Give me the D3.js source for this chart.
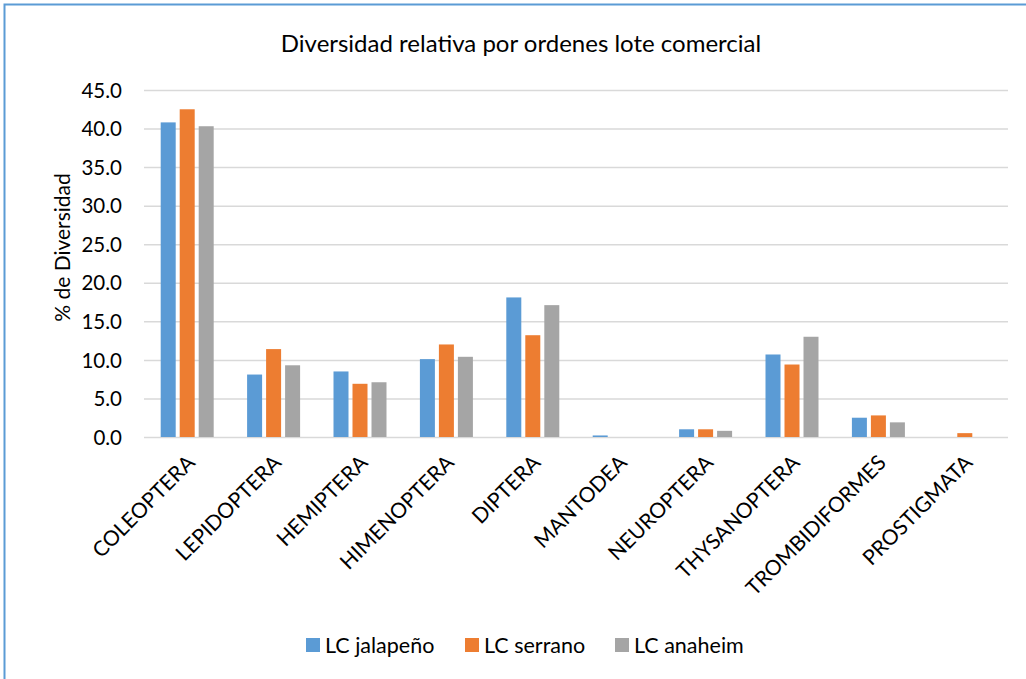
<!DOCTYPE html>
<html>
<head>
<meta charset="utf-8">
<script src="https://cdn.jsdelivr.net/npm/d3@7"></script>
<style>
    body { margin: 0; background: #fff; }
    text { font-family: Lato, "Noto Sans", sans-serif; fill: #000; }
</style>
</head>
<body>
<div id="chart-area"></div>
<script>
/*
*    Diversidad relativa por ordenes - lote comercial
*/

var categories = ["COLEOPTERA", "LEPIDOPTERA", "HEMIPTERA", "HIMENOPTERA", "DIPTERA",
    "MANTODEA", "NEUROPTERA", "THYSANOPTERA", "TROMBIDIFORMES", "PROSTIGMATA"];

var seriesNames = ["LC jalapeño", "LC serrano", "LC anaheim"];

var jalapeno = [40.8, 8.1, 8.5, 10.1, 18.1, 0.2, 1.0, 10.7, 2.5, 0.0];
var serrano  = [42.5, 11.4, 6.9, 12.0, 13.2, 0.0, 1.0, 9.4, 2.8, 0.5];
var anaheim  = [40.3, 9.3, 7.1, 10.4, 17.1, 0.0, 0.8, 13.0, 1.9, 0.0];

var yTicks = [0, 5, 10, 15, 20, 25, 30, 35, 40, 45];

var colors = ["#5b9bd5", "#ed7d31", "#a5a5a5"];

var W = 1026, H = 679;
var margin = { left:144, right:18, top:90, bottom:242 };

var width = W - margin.left - margin.right,
    height = H - margin.top - margin.bottom;

var svg = d3.select("#chart-area")
    .append("svg")
        .attr("width", W)
        .attr("height", H);

// outer frame (right and bottom edges are cut off in the picture)
svg.append("rect")
    .attr("x", 4.5)
    .attr("y", 4.5)
    .attr("width", W + 20)
    .attr("height", H + 20)
    .attr("fill", "none")
    .attr("stroke", "#5b9bd5")
    .attr("stroke-width", 2);

// Title
svg.append("text")
    .attr("x", 521)
    .attr("y", 52)
    .attr("font-size", "24px")
    .attr("text-anchor", "middle")
    .text("Diversidad relativa por ordenes lote comercial");

var g = svg.append("g")
    .attr("transform", "translate(" + margin.left + ", " + margin.top + ")");

// Y Label
g.append("text")
    .attr("y", -margin.left + 70)
    .attr("x", -(height / 2) + 16)
    .attr("font-size", "21px")
    .attr("text-anchor", "middle")
    .attr("transform", "rotate(-90)")
    .text("% de Diversidad");

var data = categories.map(function(c, i) {
    return { name: c, values: [jalapeno[i], serrano[i], anaheim[i]] };
});

// X Scale
var x0 = d3.scaleBand()
    .domain(categories)
    .range([0, width])
    .padding(0);

var groupW = 57;
var x1 = d3.scaleBand()
    .domain(d3.range(seriesNames.length))
    .range([(x0.bandwidth() - groupW) / 2, (x0.bandwidth() + groupW) / 2])
    .padding(0);

// Y Scale
var y = d3.scaleLinear()
    .domain([0, 45])
    .range([height, 0]);

// Grid lines
var yGrid = d3.axisLeft(y)
    .tickValues(yTicks)
    .tickSize(-width)
    .tickFormat("");
g.append("g")
    .attr("class", "grid")
    .call(yGrid)
    .call(function(s) {
        s.select(".domain").remove();
        s.selectAll("line").attr("stroke", "#d9d9d9").attr("stroke-width", 1.5);
    });

// Y Axis labels
var yAxisCall = d3.axisLeft(y)
    .tickValues(yTicks)
    .tickSize(0)
    .tickPadding(22)
    .tickFormat(function(d){ return d3.format(".1f")(d); });
g.append("g")
    .attr("class", "y axis")
    .call(yAxisCall)
    .call(function(s) {
        s.select(".domain").remove();
        s.selectAll("text")
            .attr("font-size", "20.5px")
            .attr("font-family", "Lato, 'Noto Sans', sans-serif")
            .attr("fill", "#000")
            .attr("dy", "0.35em");
    });

// X Axis labels
var xAxisCall = d3.axisBottom(x0).tickSize(0);
g.append("g")
    .attr("class", "x axis")
    .attr("transform", "translate(0," + height + ")")
    .call(xAxisCall)
    .call(function(s) {
        s.select(".domain").remove();
        s.selectAll("text")
            .attr("font-size", "21px")
            .attr("font-family", "Lato, 'Noto Sans', sans-serif")
            .attr("fill", "#000")
            .attr("text-anchor", "end")
            .attr("dy", null)
            .attr("y", 0)
            .attr("transform", "translate(9,27) rotate(-45)");
    });

// Bars
var groups = g.selectAll(".cat")
    .data(data)
    .enter()
    .append("g")
        .attr("class", "cat")
        .attr("transform", function(d){ return "translate(" + x0(d.name) + ",0)"; });

groups.selectAll("rect")
    .data(function(d){ return d.values; })
    .enter()
    .append("rect")
        .attr("x", function(d, i){ return x1(i) + 2; })
        .attr("y", function(d){ return y(d); })
        .attr("width", x1.bandwidth() - 4)
        .attr("height", function(d){ return height - y(d); })
        .attr("fill", function(d, i){ return colors[i]; });

// Legend
var legendX = [306, 465, 615];
var legend = svg.selectAll(".legend")
    .data(seriesNames)
    .enter()
    .append("g")
        .attr("class", "legend")
        .attr("transform", function(d, i){ return "translate(" + legendX[i] + ",638)"; });

legend.append("rect")
    .attr("width", 14)
    .attr("height", 14)
    .attr("fill", function(d, i){ return colors[i]; });

legend.append("text")
    .attr("x", 19)
    .attr("y", 7)
    .attr("dy", "0.35em")
    .attr("font-size", "21.5px")
    .text(function(d){ return d; });
</script>
</body>
</html>
